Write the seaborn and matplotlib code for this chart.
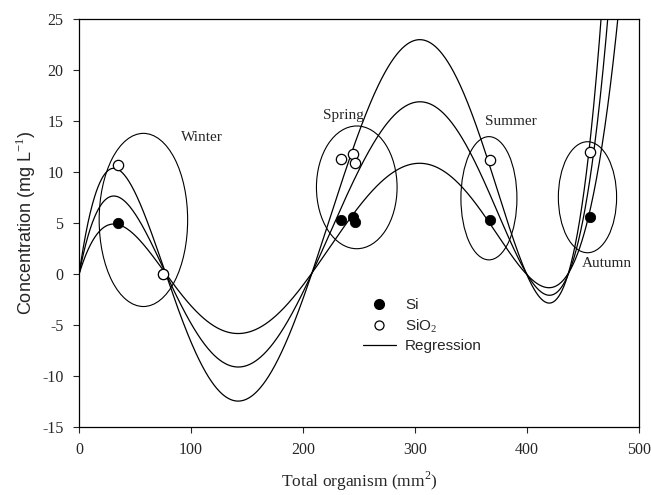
import numpy as np
import pandas as pd
import matplotlib
matplotlib.use("Agg")
import matplotlib.pyplot as plt
from matplotlib.patches import Ellipse
from matplotlib.lines import Line2D
import seaborn as sns

si_x = [35, 75, 234, 245, 246, 367, 456]
si_y = [5.0, 0.0, 5.3, 5.6, 5.1, 5.3, 5.6]
sio2_x = [35, 75, 234, 245, 246, 367, 456]
sio2_y = [10.7, 0.0, 11.25, 11.8, 10.9, 11.2, 12.0]

reg_x_low = [0, 30, 78, 142, 208, 305, 400, 420, 438, 481]
reg_y_low = [0, 4.77, 0, -5.77, 0, 10.86, 0, -1.2, 0, 25]
reg_x_mid = [0, 30, 78, 142, 208, 305, 400, 420, 438, 472]
reg_y_mid = [0, 7.52, 0, -9.1, 0, 16.9, 0, -1.9, 0, 25]
reg_x_high = [0, 30, 78, 142, 208, 305, 400, 420, 438, 466]
reg_y_high = [0, 10.13, 0, -12.45, 0, 23.0, 0, -2.63, 0, 25]

# Elipses de estaciones: centro x, centro y, ancho, alto
seasons = ['Winter', 'Spring', 'Summer', 'Autumn']
ell_cx = [57.5, 248, 366, 454]
ell_cy = [5.3, 8.5, 7.43, 7.53]
ell_w = [79, 72, 50, 52]
ell_h = [17, 12.05, 12.1, 10.9]
lab_x = [91, 217.6, 362.5, 448.8]
lab_y = [13.4, 15.6, 14.95, 1.05]

sns.set_style("ticks")
plt.rcParams['font.family'] = ['Liberation Serif', 'DejaVu Serif']
plt.rcParams['mathtext.fontset'] = 'custom'
plt.rcParams['mathtext.rm'] = 'Liberation Serif'
plt.rcParams['axes.unicode_minus'] = False

fig = plt.figure(figsize=(6.51, 4.95), dpi=100)
ax = fig.add_axes([79 / 651, 1 - 426.7 / 495, 560 / 651, 407.4 / 495])

xs = np.linspace(0, 500, 1001)
curves = []
for rx, ry, name in [(reg_x_low, reg_y_low, 'low'), (reg_x_mid, reg_y_mid, 'mid'),
                     (reg_x_high, reg_y_high, 'high')]:
    coef = np.polyfit(rx, ry, 5)
    curves.append(pd.DataFrame({'x': xs, 'y': np.polyval(coef, xs), 'curve': name}))
df_reg = pd.concat(curves)
sns.lineplot(data=df_reg, x='x', y='y', units='curve', estimator=None,
             color='black', lw=0.9, ax=ax, zorder=2)

for cx, cy, w, h in zip(ell_cx, ell_cy, ell_w, ell_h):
    ax.add_patch(Ellipse((cx, cy), w, h, fill=False, ec='black', lw=0.8, zorder=2))
for name, tx, ty in zip(seasons, lab_x, lab_y):
    ax.text(tx, ty, name, fontsize=11, ha='left', va='center')

sns.scatterplot(x=si_x, y=si_y, color='black', edgecolor='black', s=55,
                ax=ax, zorder=3)
sns.scatterplot(x=sio2_x, y=sio2_y, color='white', edgecolor='black',
                linewidth=0.9, s=55, ax=ax, zorder=4)

ax.set_xlim(0, 500)
ax.set_ylim(-15, 25)
ax.set_xticks([0, 100, 200, 300, 400, 500])
ax.set_yticks([-15, -10, -5, 0, 5, 10, 15, 20, 25])
ax.tick_params(direction='out', length=4.3, width=0.8, labelsize=11.5, pad=7)
for sp in ax.spines.values():
    sp.set_linewidth(0.9)
    sp.set_color('black')

ax.set_xlabel('Total organism (mm$^2$)', fontsize=12.5, labelpad=8)
ax.set_ylabel('Concentration (mg L$^{-1}$)', fontsize=13,
              family=['Liberation Sans', 'DejaVu Sans'], labelpad=3)

handles = [
    Line2D([], [], ls='none', marker='o', color='black', markersize=7),
    Line2D([], [], ls='none', marker='o', mfc='white', mec='black', markersize=6.5, mew=0.9),
    Line2D([], [], color='black', lw=0.9),
]
ax.legend(handles, ['Si', 'SiO$_2$', 'Regression'], loc='upper left',
          bbox_to_anchor=(0.507, 0.315), frameon=False, borderpad=0, borderaxespad=0,
          handlelength=2.15, handletextpad=0.6, labelspacing=0.3,
          prop={'family': ['Liberation Sans', 'DejaVu Sans'], 'size': 11})

fig.savefig('out.png', dpi=100)
